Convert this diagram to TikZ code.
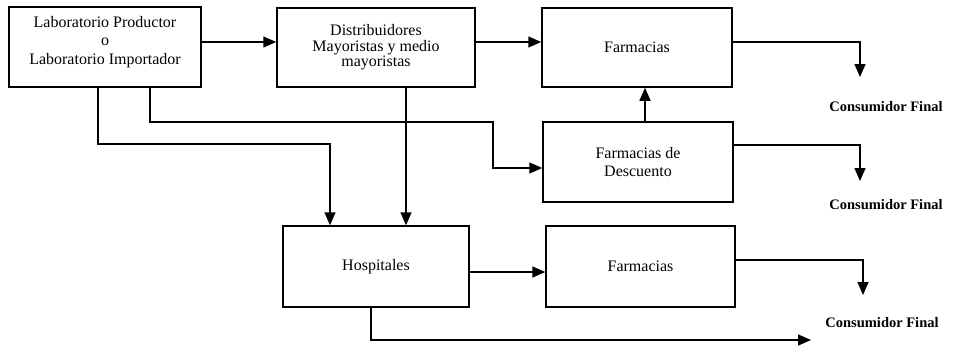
\documentclass[tikz,border=0pt]{standalone}
\usepackage{fontspec}
\setmainfont{Liberation Serif}
\usepackage{tikz}
\usetikzlibrary{arrows.meta}

\begin{document}
\begin{tikzpicture}[x=1pt, y=-1pt, line width=1.5pt,
  caja/.style={draw, rectangle, align=center, inner sep=0pt,
    font=\fontsize{16}{15.5}\selectfont},
  flecha/.style={-{Triangle[length=13pt, width=11pt]}},
  consumidor/.style={font=\fontsize{14.5}{17}\selectfont\bfseries}]
\useasboundingbox (0,0) rectangle (957,345);

% bloques
\node[caja, minimum width=192pt, minimum height=80pt] (lab) at (105,47)
  {Laboratorio Productor\\[3pt] o\\[3pt] Laboratorio Importador\\[-2pt]};
\node[caja, minimum width=198pt, minimum height=79pt] (dist) at (376,47.5)
  {Distribuidores\\ Mayoristas y medio\\ mayoristas};
\node[caja, minimum width=190pt, minimum height=79pt] (farm1) at (637,47.5) {Farmacias};
\node[caja, minimum width=190pt, minimum height=80pt] (desc) at (638,162)
  {Farmacias de\\[2pt] Descuento};
\node[caja, minimum width=186pt, minimum height=81pt] (hosp) at (376,266.5) {Hospitales};
\node[caja, minimum width=189pt, minimum height=81pt] (farm2) at (640.5,266.5) {Farmacias};

% consumidores
\node[consumidor] (cf1) at (886,107) {Consumidor Final};
\node[consumidor] (cf2) at (886,205) {Consumidor Final};
\node[consumidor] (cf3) at (882,323) {Consumidor Final};

\coordinate (c1) at (860,77);
\coordinate (c2) at (860,181);
\coordinate (c3) at (863,295);
\coordinate (c4) at (811,340);
\coordinate (k1) at (330,144);
\coordinate (k2) at (493,122);

% flechas
\draw[flecha] ([yshift=5pt]lab.east) -- ([yshift=5pt]lab.east -| dist.west);
\draw[flecha] ([yshift=5.5pt]dist.east) -- ([yshift=5.5pt]dist.east -| farm1.west);
\draw[flecha] ([yshift=5.5pt]farm1.east) -| (c1);
\draw[flecha] ([xshift=7pt]desc.north) -- ([xshift=7pt]desc.north |- farm1.south);
\draw[flecha] ([yshift=17pt]desc.east) -| (c2);
\draw[flecha] ([yshift=-5.5pt]hosp.east) -- ([yshift=-5.5pt]hosp.east -| farm2.west);
\draw[flecha] ([yshift=6.5pt]farm2.east) -| (c3);
\draw[flecha] ([xshift=-5pt]hosp.south) |- (c4);
\draw[flecha] ([xshift=-7pt]lab.south) |- (k1) -- (k1 |- hosp.north);
\draw[flecha] ([xshift=45pt]lab.south) |- (k2) |- ([yshift=-6pt]desc.west);
\draw[flecha] ([xshift=30pt]dist.south) -- ([xshift=30pt]hosp.north);
\end{tikzpicture}
\end{document}
